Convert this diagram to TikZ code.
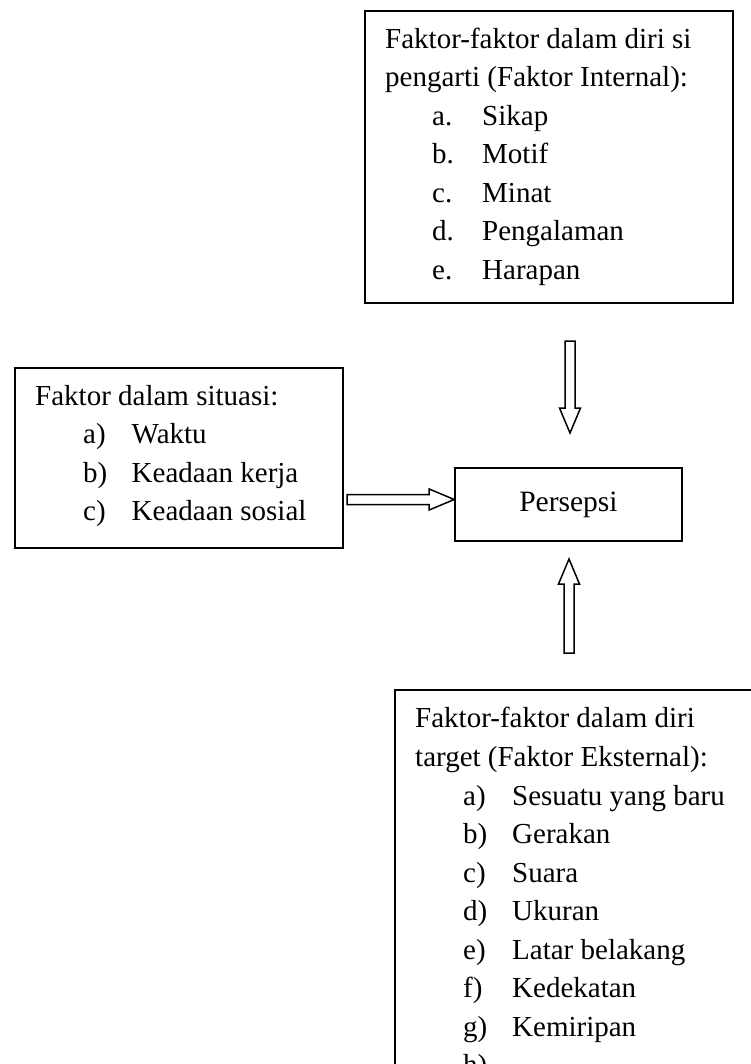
\documentclass[tikz,border=0pt]{standalone}
\usepackage{fontspec}
\setmainfont{Liberation Serif}
\usetikzlibrary{calc}
\tikzset{
  box/.style={draw, line width=1.6pt, rectangle, inner sep=0pt, anchor=north west},
  txt/.style={anchor=base west, inner sep=0pt, font=\fontsize{29}{38}\selectfont},
  barrow/.style={draw, line width=1.5pt, fill=white, line join=miter},
}
\newcommand\blockarr[3]{%
  \coordinate (#1h) at ($(#3)!25pt!(#2)$);
  \draw[barrow] ($(#2)!5pt!90:(#3)$) -- ($(#1h)!5pt!90:(#3)$) -- ($(#1h)!10.5pt!90:(#3)$) -- (#3)
    -- ($(#1h)!10.5pt!-90:(#3)$) -- ($(#1h)!5pt!-90:(#3)$) -- ($(#2)!5pt!-90:(#3)$) -- cycle;}
\begin{document}
\begin{tikzpicture}[x=1pt,y=-1pt]
\useasboundingbox (0,0) rectangle (751,1064);
\clip (0,0) rectangle (751,1064);
\fill[white] (0,0) rectangle (751,1064);

% Internal factors box
\node[box, minimum width=368pt, minimum height=292pt] (internal) at (364,10) {};
\node[txt] (in1) at (385,48.5) {Faktor-faktor dalam diri si};
\node[txt] (in2) at (385,87) {pengarti (Faktor Internal):};
\node[txt] (inla) at (432,125.5) {a.};
\node[txt] (inta) at (482,125.5) {Sikap};
\node[txt] (inlb) at (432,164) {b.};
\node[txt] (intb) at (482,164) {Motif};
\node[txt] (inlc) at (432,202.5) {c.};
\node[txt] (intc) at (482,202.5) {Minat};
\node[txt] (inld) at (432,241) {d.};
\node[txt] (intd) at (482,241) {Pengalaman};
\node[txt] (inle) at (432,279.5) {e.};
\node[txt] (inte) at (482,279.5) {Harapan};

% Situation factors box
\node[box, minimum width=328pt, minimum height=180pt] (situasi) at (14,367) {};
\node[txt] (si1) at (35,405) {Faktor dalam situasi:};
\node[txt] (sila) at (83,443.5) {a)};
\node[txt] (sita) at (131.5,443.5) {Waktu};
\node[txt] (silb) at (83,482) {b)};
\node[txt] (sitb) at (131.5,482) {Keadaan kerja};
\node[txt] (silc) at (83,520.5) {c)};
\node[txt] (sitc) at (131.5,520.5) {Keadaan sosial};

% Persepsi box
\node[draw, line width=1.6pt, rectangle, inner sep=0pt, minimum width=227pt, minimum height=73pt,
      font=\fontsize{29.5}{38}\selectfont] (persepsi) at (568.5,504.5) {Persepsi};

% External factors box (continues beyond the page)
\node[box, minimum width=420pt, minimum height=460pt] (eksternal) at (394,689) {};
\node[txt] (ek1) at (415,727) {Faktor-faktor dalam diri};
\node[txt] (ek2) at (415,766) {target (Faktor Eksternal):};
\node[txt] (ekla) at (463,805) {a)};
\node[txt] (ekta) at (512,805) {Sesuatu yang baru};
\node[txt] (eklb) at (463,843.5) {b)};
\node[txt] (ektb) at (512,843.5) {Gerakan};
\node[txt] (eklc) at (463,882) {c)};
\node[txt] (ektc) at (512,882) {Suara};
\node[txt] (ekld) at (463,920.5) {d)};
\node[txt] (ektd) at (512,920.5) {Ukuran};
\node[txt] (ekle) at (463,959) {e)};
\node[txt] (ekte) at (512,959) {Latar belakang};
\node[txt] (eklf) at (463,997.5) {f)};
\node[txt] (ektf) at (512,997.5) {Kedekatan};
\node[txt] (eklg) at (463,1036) {g)};
\node[txt] (ektg) at (512,1036) {Kemiripan};
\node[txt] (eklh) at (463,1074.5) {h)};

% Block arrows
\coordinate (dS) at (570,341);
\coordinate (dT) at (570,433);
\blockarr{d}{dS}{dT}
\coordinate (uS) at (569,653);
\coordinate (uT) at (569,559);
\blockarr{u}{uS}{uT}
\coordinate (hS) at (347,499.5);
\coordinate (hT) at (persepsi.west |- hS);
\blockarr{h}{hS}{hT}
\end{tikzpicture}
\end{document}
